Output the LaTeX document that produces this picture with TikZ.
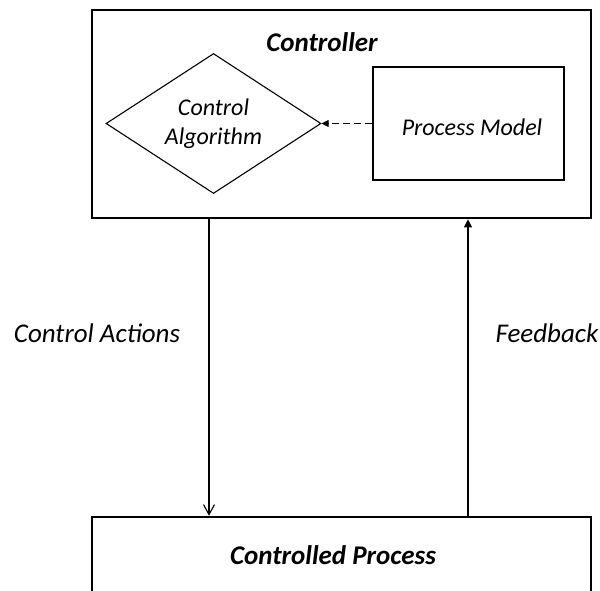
\documentclass[tikz,border=0pt]{standalone}
\usepackage{fontspec}
\setmainfont{Carlito}
\usetikzlibrary{arrows.meta,shapes.geometric}
\tikzset{
  bigbox/.style={draw, line width=2.6pt, inner sep=0pt},
  smallbox/.style={draw, line width=1.1pt, inner sep=0pt},
  bigtxt/.style={font=\fontsize{27}{30}\selectfont\bfseries\itshape, inner sep=0pt},
  lbltxt/.style={font=\fontsize{27}{30}\selectfont\itshape, inner sep=0pt},
  intxt/.style={font=\fontsize{24}{29}\selectfont\itshape, align=center},
  flow/.style={line width=1.1pt},
}
\begin{document}
\begin{tikzpicture}[x=1pt,y=-1pt]
\useasboundingbox (0,0) rectangle (600,591);
\clip (0,0) rectangle (600,591);
% controller
\node[bigbox, minimum width=499pt, minimum height=208pt] (ctrl) at (341.5,114) {};
\node[bigtxt] (ctrltitle) at (322,42) {Controller};
\node[diamond, draw, line width=1.1pt, aspect=1.536, inner sep=0pt,
      minimum width=215pt, minimum height=140pt, intxt] (alg) at (213.5,123.5) {Control\\Algorithm};
\node[smallbox, minimum width=191pt, minimum height=113pt] (pm) at (468.5,123.5) {};
\node[intxt, inner sep=0pt] (pmtxt) at (472,127) {Process Model};
\draw[flow, dash pattern=on 7pt off 4pt, -{Triangle[length=7pt,width=7pt]}] (pm.west) -- (alg.east);
% controlled process
\node[bigbox, minimum width=499pt, minimum height=140pt] (proc) at (341.5,587) {};
\node[bigtxt] (proctitle) at (333,555) {Controlled Process};
% connectors
\coordinate (dx) at (209,0);
\coordinate (ux) at (468,0);
\draw[flow, -{Straight Barb[length=10pt,width=11pt,line width=1.1pt]}] (ctrl.south -| dx) -- (proc.north -| dx);
\draw[flow, -{Triangle[length=8pt,width=8pt]}] (proc.north -| ux) -- (ctrl.south -| ux);
\node[lbltxt] (ca) at (97,333) {Control Actions};
\node[lbltxt] (fb) at (547,333) {Feedback};
\end{tikzpicture}
\end{document}
